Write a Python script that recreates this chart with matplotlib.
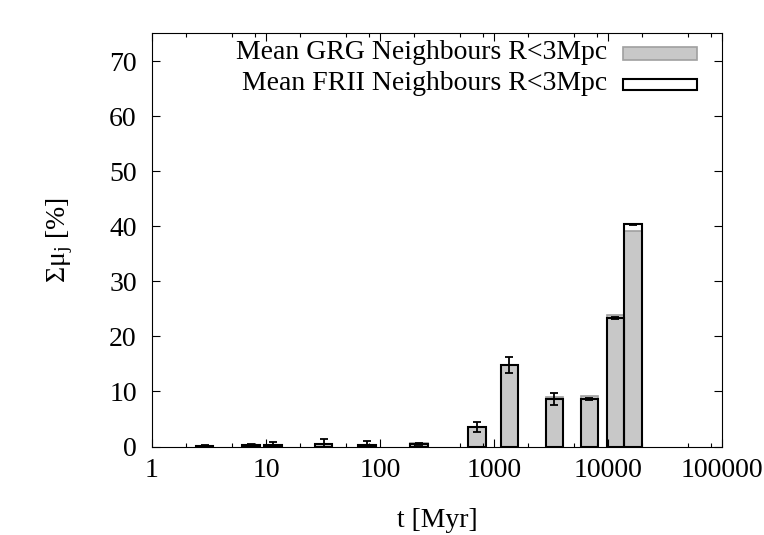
import numpy as np
import matplotlib.pyplot as plt
from matplotlib.patches import Rectangle
from matplotlib.ticker import FixedLocator, NullFormatter

# age bins (Myr) and summed light fractions (%)
t_myr = [2.9, 7.4, 11.5, 32, 77, 220, 710, 1360, 3380, 6850, 11600, 16500]
grg = [0.15, 0.3, 0.3, 0.4, 0.35, 0.6, 3.6, 14.8, 9.0, 9.2, 23.9, 39.2]
frii = [0.15, 0.3, 0.3, 0.4, 0.35, 0.5, 3.6, 14.8, 8.6, 8.6, 23.3, 40.35]
err = [0.1, 0.15, 0.6, 0.9, 0.6, 0.2, 0.9, 1.5, 1.05, 0.15, 0.15, 0.1]

x_ticks = [1, 10, 100, 1000, 10000, 100000]
x_ticklabels = ['1', '10', '100', '1000', '10000', '100000']
y_ticks = [0, 10, 20, 30, 40, 50, 60, 70]

grg_label = 'Mean GRG Neighbours R<3Mpc'
frii_label = 'Mean FRII Neighbours R<3Mpc'

plt.rcParams['font.family'] = 'Liberation Serif'
plt.rcParams['mathtext.fontset'] = 'custom'
plt.rcParams['mathtext.rm'] = 'Liberation Serif'
plt.rcParams['mathtext.it'] = 'Liberation Serif:italic'

fig = plt.figure(figsize=(7.64, 5.35), dpi=100)
ax = fig.add_axes([0.199, 0.1654, 0.746, 0.772])
ax.set_xscale('log')

t = np.array(t_myr)
half = 10 ** 0.0765
left = t / half
width = t * half - left

gray_fill = '#c8c8c8'
gray_edge = '#a0a0a0'
ax.bar(left, grg, width=width, align='edge', color=gray_fill,
       edgecolor=gray_edge, lw=1.2)
ax.bar(left, frii, width=width, align='edge', facecolor='none',
       edgecolor='black', lw=1.5)
ax.errorbar(t, frii, yerr=err, fmt='none', ecolor='black',
            elinewidth=1.3, capsize=3, capthick=1.3)

ax.set_xlim(1, 1e5)
ax.set_ylim(0, 75)
ax.xaxis.set_major_locator(FixedLocator(x_ticks))
ax.set_xticklabels(x_ticklabels)
minor = [m * 10 ** d for d in range(5) for m in (2, 5, 8)]
ax.xaxis.set_minor_locator(FixedLocator(minor))
ax.xaxis.set_minor_formatter(NullFormatter())
ax.set_yticks(y_ticks)

ax.tick_params(which='both', direction='in', top=True, right=True,
               labelsize=20, width=0.8)
ax.tick_params(which='major', length=6)
ax.tick_params(which='minor', length=3)
ax.tick_params(axis='x', pad=8)
ax.tick_params(axis='y', pad=11)
for s in ax.spines.values():
    s.set_linewidth(0.8)

ax.set_xlabel('t [Myr]', fontsize=20)
ax.set_ylabel('Σμ$_{\\mathrm{j}}$ [%]', fontsize=20)
ax.xaxis.set_label_coords(0.5, -0.148)
ax.yaxis.set_label_coords(-0.136, 0.5)

# gnuplot-style key: text right-aligned, sample box on the right
ax.text(0.798, 0.939, grg_label, transform=ax.transAxes, ha='right',
        va='baseline', fontsize=20)
ax.text(0.798, 0.862, frii_label, transform=ax.transAxes, ha='right',
        va='baseline', fontsize=20)
ax.add_patch(Rectangle((0.826, 0.937), 0.130, 0.031, transform=ax.transAxes,
                       facecolor=gray_fill, edgecolor=gray_edge, lw=1.2))
ax.add_patch(Rectangle((0.826, 0.862), 0.130, 0.028, transform=ax.transAxes,
                       facecolor='white', edgecolor='black', lw=1.5))

fig.savefig('out.png', dpi=100)
